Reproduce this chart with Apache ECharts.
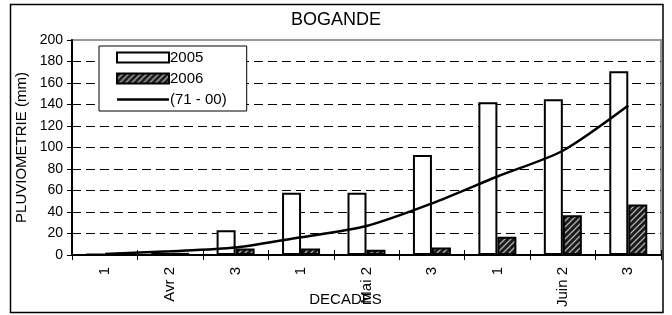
<!DOCTYPE html>
<html>
<head>
<meta charset="utf-8">
<script src="https://cdn.jsdelivr.net/npm/echarts@6/dist/echarts.min.js"></script>
<style>html,body{margin:0;padding:0;background:#fff}#c{width:672px;height:315px}</style>
</head>
<body>
<div id="c"></div>
<script>
var categories = ['1', 'Avr 2', '3', '1', 'Mai 2', '3', '1', 'Juin 2', '3'];
var values2005 = [1, 2, 23, 58, 58, 93, 142, 145, 171];
var values2006 = [0, 2, 6, 6, 5, 7, 17, 37, 47];
var normale7100 = [1, 3.5, 7, 16.5, 27, 48, 73, 97, 139];
var yTicks = [0, 20, 40, 60, 80, 100, 120, 140, 160, 180, 200];

var FONT = "'Liberation Sans', Arial, sans-serif";

function hatch() {
  var c = document.createElement('canvas');
  c.width = 6; c.height = 6;
  var g = c.getContext('2d');
  g.fillStyle = '#1a1a1a';
  g.fillRect(0, 0, 6, 6);
  g.strokeStyle = '#b0b0b0';
  g.lineWidth = 1.3;
  g.beginPath();
  g.moveTo(-1, 7); g.lineTo(7, -1);
  g.moveTo(-4, 4); g.lineTo(4, -4);
  g.moveTo(2, 10); g.lineTo(10, 2);
  g.stroke();
  return c;
}

var chart = echarts.init(document.getElementById('c'), null, {renderer: 'canvas'});
chart.setOption({
  animation: false,
  backgroundColor: '#fff',
  textStyle: {fontFamily: FONT, color: '#000'},
  title: {
    text: 'BOGANDE', left: 'center', top: 6,
    textStyle: {fontFamily: FONT, fontSize: 18, fontWeight: 'normal', color: '#000'}
  },
  graphic: [{
    type: 'rect', shape: {x: 10.5, y: 4.5, width: 652.5, height: 308},
    style: {fill: null, stroke: '#000', lineWidth: 1.5}, z: 100, silent: true
  }],
  legend: {
    orient: 'vertical', left: 99, top: 46,
    backgroundColor: '#fff', borderColor: '#000', borderWidth: 1,
    padding: [4, 20, 4, 17], itemWidth: 52, itemHeight: 10, itemGap: 6,
    textStyle: {fontFamily: FONT, fontSize: 15, lineHeight: 15, color: '#000', padding: [0, 0, 0, -4]},
    data: [
      {name: '2005', icon: 'rect'},
      {name: '2006', icon: 'rect'},
      {name: '(71 - 00)', icon: 'path://M0,0M0,3.8L52,3.8L52,6.2L0,6.2ZM52,10',
       itemStyle: {color: '#000', borderWidth: 0}}
    ]
  },
  grid: {
    left: 72, top: 40, right: 11, bottom: 60, outerBoundsMode: 'none', containLabel: false,
    show: true, borderColor: '#999', borderWidth: 2, backgroundColor: '#fff'
  },
  xAxis: [{
    type: 'category', data: categories, boundaryGap: true,
    name: 'DECADES', nameLocation: 'middle', nameGap: 37, nameMoveOverlap: false,
    nameTextStyle: {fontFamily: FONT, fontSize: 15, color: '#000', verticalAlign: 'top', padding: [0, 42, 0, 0]},
    axisLine: {lineStyle: {color: '#000', width: 2}},
    axisTick: {show: true, length: 5, lineStyle: {color: '#000', width: 1}},
    axisLabel: {rotate: 90, margin: 12, fontFamily: FONT, fontSize: 15, color: '#000'},
    splitLine: {show: false}, z: 5
  }, {
    type: 'category', data: categories, boundaryGap: true, position: 'bottom',
    axisLine: {show: false},
    axisTick: {show: true, inside: true, length: 5, lineStyle: {color: '#000', width: 1}},
    axisLabel: {show: false}, splitLine: {show: false}
  }],
  yAxis: {
    type: 'value', min: 0, max: 200, interval: 20,
    name: 'PLUVIOMETRIE (mm)', nameLocation: 'middle', nameGap: 43, nameMoveOverlap: false,
    nameTextStyle: {fontFamily: FONT, fontSize: 15, color: '#000'},
    axisLine: {show: true, lineStyle: {color: '#000', width: 2}},
    axisTick: {show: true, length: 5, lineStyle: {color: '#000', width: 1}},
    axisLabel: {margin: 9, fontFamily: FONT, fontSize: 14, color: '#000',
      formatter: function (v) { return yTicks.indexOf(v) >= 0 ? String(v) : ''; }},
    splitLine: {show: true, showMaxLine: false, lineStyle: {color: '#000', width: 1, type: [9, 5]}}
  },
  series: [{
    name: '2005', type: 'bar', data: values2005, barWidth: 19, barGap: '0%',
    itemStyle: {color: '#fff', borderColor: '#000', borderWidth: 2}
  }, {
    name: '2006', type: 'bar', data: values2006, barWidth: 19,
    itemStyle: {color: {image: hatch(), repeat: 'repeat'}, borderColor: '#000', borderWidth: 2}
  }, {
    name: '(71 - 00)', type: 'line', data: normale7100, smooth: 0.25,
    symbol: 'none', lineStyle: {color: '#000', width: 2.5}, itemStyle: {color: '#000'}, z: 10
  }]
});
</script>
</body>
</html>
